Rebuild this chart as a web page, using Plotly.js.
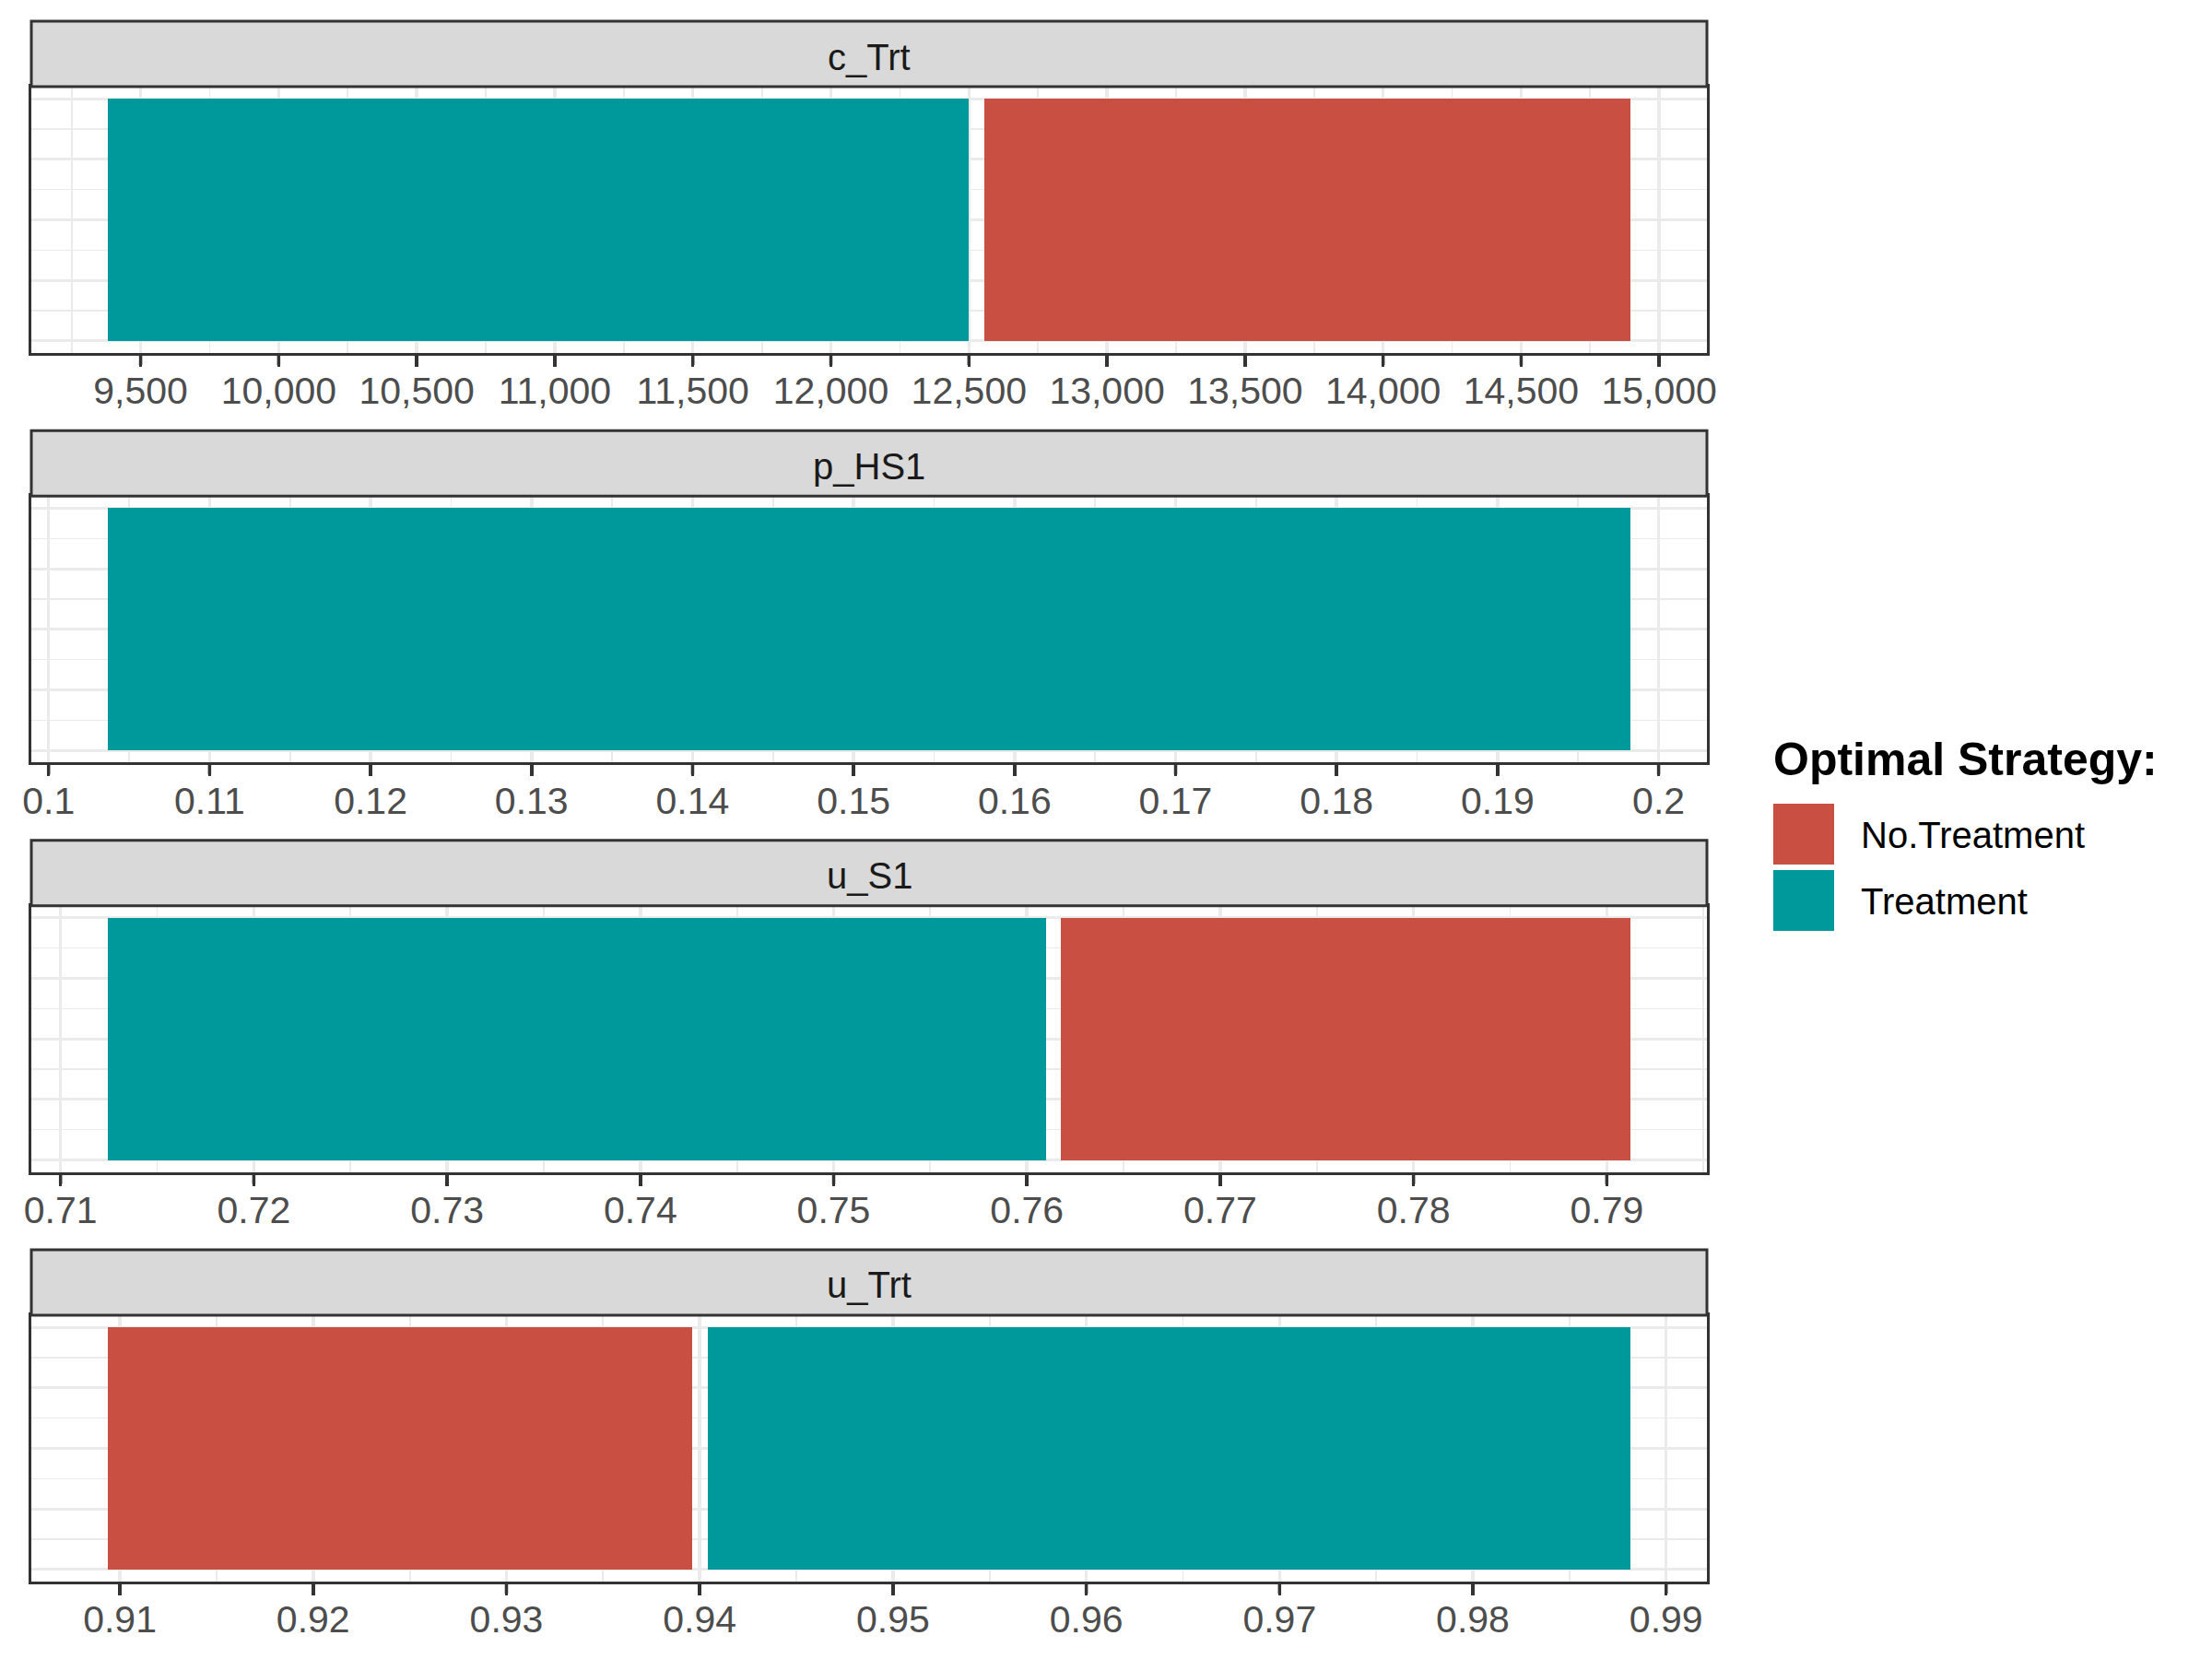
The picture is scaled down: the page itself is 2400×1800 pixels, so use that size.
<!DOCTYPE html>
<html>
<head>
<meta charset="utf-8">
<script src="https://cdn.plot.ly/plotly-3.0.1.min.js"></script>
<style>html,body{margin:0;padding:0;background:#ffffff;}</style>
</head>
<body>
<div id="chart" style="width:2400px;height:1800px;"></div>
<script>
// ---------------- data ----------------
const parameters = ['c_Trt', 'p_HS1', 'u_S1', 'u_Trt'];
const strategies = ['No.Treatment', 'Treatment'];
const strategyColors = ['#CA4F43', '#00999B'];

// optimal-strategy segments (parameter, strategy, from, to)
const segParameter = ['c_Trt', 'c_Trt', 'p_HS1', 'u_S1', 'u_S1', 'u_Trt', 'u_Trt'];
const segStrategy  = ['Treatment', 'No.Treatment', 'Treatment', 'Treatment', 'No.Treatment', 'No.Treatment', 'Treatment'];
const segStart     = [9380, 12557, 0.10366, 0.71243, 0.76176, 0.90936, 0.94040];
const segEnd       = [12500, 14897, 0.19827, 0.76100, 0.79124, 0.93960, 0.98817];

// tick values / labels per facet
const ticks_c_Trt  = [9500, 10000, 10500, 11000, 11500, 12000, 12500, 13000, 13500, 14000, 14500, 15000];
const labels_c_Trt = ['9,500', '10,000', '10,500', '11,000', '11,500', '12,000', '12,500', '13,000', '13,500', '14,000', '14,500', '15,000'];
const ticks_p_HS1  = [0.10, 0.11, 0.12, 0.13, 0.14, 0.15, 0.16, 0.17, 0.18, 0.19, 0.20];
const labels_p_HS1 = ['0.1', '0.11', '0.12', '0.13', '0.14', '0.15', '0.16', '0.17', '0.18', '0.19', '0.2'];
const ticks_u_S1   = [0.71, 0.72, 0.73, 0.74, 0.75, 0.76, 0.77, 0.78, 0.79];
const labels_u_S1  = ['0.71', '0.72', '0.73', '0.74', '0.75', '0.76', '0.77', '0.78', '0.79'];
const ticks_u_Trt  = [0.91, 0.92, 0.93, 0.94, 0.95, 0.96, 0.97, 0.98, 0.99];
const labels_u_Trt = ['0.91', '0.92', '0.93', '0.94', '0.95', '0.96', '0.97', '0.98', '0.99'];

const tickSets  = [ticks_c_Trt, ticks_p_HS1, ticks_u_S1, ticks_u_Trt];
const labelSets = [labels_c_Trt, labels_p_HS1, labels_u_S1, labels_u_Trt];
const minorSteps = [250, 0.005, 0.005, 0.005];

// ---------------- layout geometry (pixels) ----------------
const W = 2400, H = 1800;
const xL = 34, xR = 1852;
const stripTop0 = 23, stripH = 71, panelH = 289, pitch = 444.33;
const FONT = 'Liberation Sans, Arial, sans-serif';
const px2x = p => p / W;
const px2y = p => 1 - p / H;

const traces = [];
const layout = {
  width: W, height: H,
  margin: {l: 0, r: 0, t: 0, b: 0, pad: 0},
  paper_bgcolor: '#ffffff',
  plot_bgcolor: '#ffffff',
  showlegend: false,
  bargap: 0,
  barmode: 'overlay',
  shapes: [],
  annotations: [],
  font: {family: FONT, color: '#4D4D4D'}
};

parameters.forEach((par, k) => {
  const suffix = k === 0 ? '' : String(k + 1);
  const stripTop = stripTop0 + pitch * k;
  const panelTop = stripTop + stripH;
  const panelBot = panelTop + panelH;

  // data range with ggplot-like 5% expansion
  const idx = segParameter.map((p, i) => p === par ? i : -1).filter(i => i >= 0);
  const lo = Math.min(...idx.map(i => segStart[i]));
  const hi = Math.max(...idx.map(i => segEnd[i]));
  const ex = (hi - lo) * 0.05;

  idx.forEach(i => {
    const s = strategies.indexOf(segStrategy[i]);
    traces.push({
      type: 'bar', orientation: 'h',
      y: [1], base: [segStart[i]], x: [segEnd[i] - segStart[i]],
      width: [1],
      marker: {color: strategyColors[s], line: {width: 0}},
      name: segStrategy[i],
      hoverinfo: 'skip',
      xaxis: 'x' + suffix, yaxis: 'y' + suffix
    });
  });

  layout['xaxis' + suffix] = {
    domain: [px2x(xL), px2x(xR)],
    anchor: 'y' + suffix,
    range: [lo - ex, hi + ex],
    tickmode: 'array',
    tickvals: tickSets[k],
    ticktext: labelSets[k],
    ticks: 'outside', ticklen: 12, tickwidth: 3.5, tickcolor: '#333333',
    ticklabelstandoff: -9,
    tickfont: {family: FONT, size: 41, color: '#4D4D4D'},
    showgrid: true, gridcolor: '#EBEBEB', gridwidth: 3.5,
    minor: {tick0: tickSets[k][0], dtick: minorSteps[k], showgrid: true, gridcolor: '#EBEBEB', gridwidth: 1.8},
    zeroline: false,
    showline: true, mirror: true, linecolor: '#333333', linewidth: 3,
    fixedrange: true
  };
  layout['yaxis' + suffix] = {
    domain: [px2y(panelBot), px2y(panelTop)],
    anchor: 'x' + suffix,
    range: [0.45, 1.55],
    tickmode: 'linear', tick0: 0.5, dtick: 0.25,
    showticklabels: false, ticks: '',
    showgrid: true, gridcolor: '#EBEBEB', gridwidth: 3,
    minor: {tick0: 0.5, dtick: 0.125, showgrid: true, gridcolor: '#EBEBEB', gridwidth: 1.5},
    zeroline: false,
    showline: true, mirror: true, linecolor: '#333333', linewidth: 3,
    fixedrange: true
  };

  // tick marks under each panel, at the tick values
  tickSets[k].forEach(v => {
    layout.shapes.push({
      type: 'line', xref: 'x' + suffix, yref: 'paper',
      x0: v, x1: v,
      y0: px2y(panelBot + 1), y1: px2y(panelBot + 13),
      line: {color: '#333333', width: 3.5}, layer: 'above'
    });
  });

  // facet strip
  layout.shapes.push({
    type: 'rect', xref: 'paper', yref: 'paper',
    x0: px2x(xL), x1: px2x(xR),
    y0: px2y(panelTop), y1: px2y(stripTop),
    fillcolor: '#D9D9D9', line: {color: '#333333', width: 3}, layer: 'above'
  });
  layout.annotations.push({
    xref: 'paper', yref: 'paper',
    x: px2x((xL + xR) / 2), y: px2y(stripTop + stripH / 2 + 3),
    xanchor: 'center', yanchor: 'middle',
    text: par, showarrow: false,
    font: {family: FONT, size: 40, color: '#1A1A1A'}
  });
});

// legend (drawn manually to match ggplot key size)
const legX = 1922, keyW = 66, keyTop0 = 872, keyPitch = 72;
layout.annotations.push({
  xref: 'paper', yref: 'paper',
  x: px2x(legX), y: px2y(824),
  xanchor: 'left', yanchor: 'middle',
  text: '<b>Optimal Strategy:</b>', showarrow: false,
  font: {family: FONT, size: 50, color: '#000000'}
});
strategies.forEach((s, i) => {
  const top = keyTop0 + keyPitch * i;
  layout.shapes.push({
    type: 'rect', xref: 'paper', yref: 'paper',
    x0: px2x(legX + 2), x1: px2x(legX + 2 + keyW),
    y0: px2y(top + keyW), y1: px2y(top),
    fillcolor: strategyColors[i], line: {width: 0}
  });
  layout.annotations.push({
    xref: 'paper', yref: 'paper',
    x: px2x(2017), y: px2y(top + keyW / 2 + 1),
    xanchor: 'left', yanchor: 'middle',
    text: s, showarrow: false,
    font: {family: FONT, size: 40, color: '#000000'}
  });
});

Plotly.newPlot('chart', traces, layout, {staticPlot: true, displayModeBar: false});
</script>
</body>
</html>
